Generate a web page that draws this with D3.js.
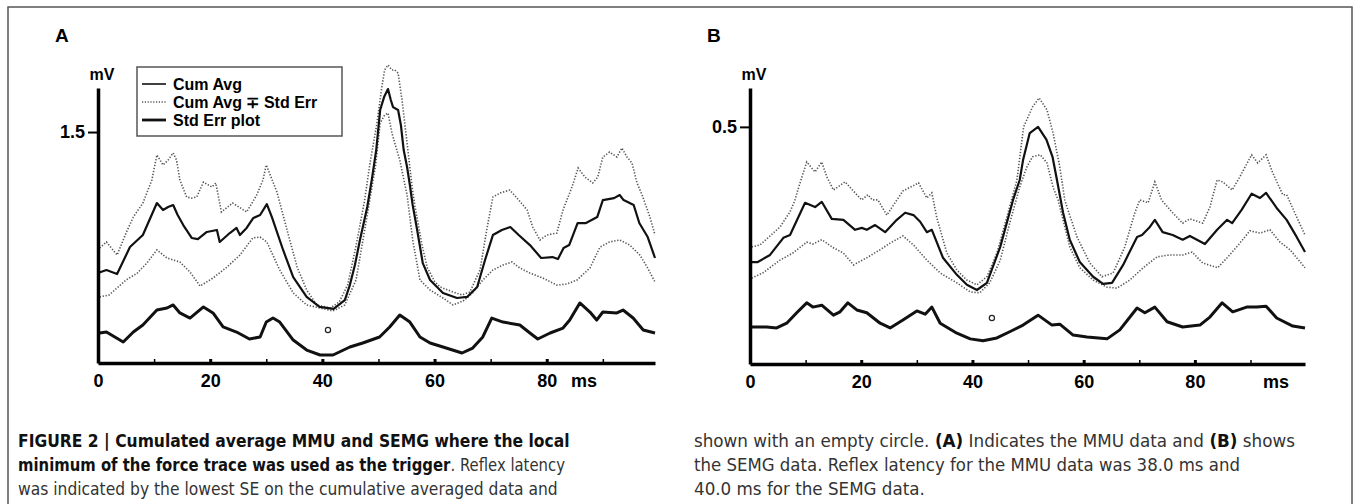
<!DOCTYPE html>
<html>
<head>
<meta charset="utf-8">
<script src="https://cdn.jsdelivr.net/npm/d3@7"></script>
<style>
body { margin: 0; background: #fff; }
svg text { font-family: "Liberation Sans", Arial, sans-serif; fill: #000; }
.cap { font-family: "Liberation Sans Narrow", "DejaVu Sans Condensed", "Liberation Sans", sans-serif; font-size: 17px; fill: #333; white-space: pre; }
</style>
</head>
<body>
<svg id="fig" width="1354" height="504"></svg>
<script>
var W = 1354, H = 504;

//Tick labels
var majorTicks = [0, 20, 40, 60, 80];
var minorTicks = [10, 30, 50, 70, 90];
var legendOptions = ['Cum Avg', 'Cum Avg \u2213 Std Err', 'Std Err plot'];

//Data, [ms, mV]
var cumAvgA = [[0,0.584],[1.5,0.604],[3.4,0.578],[5.7,0.753],[8,0.831],[10.5,1.039],[11.6,0.994],[12.5,1.013],[13.4,1.026],[14.2,0.961],[15.2,0.896],[16.7,0.812],[17.8,0.805],[19.4,0.851],[21.2,0.864],[21.7,0.786],[23.5,0.844],[24.7,0.877],[25.3,0.831],[26.5,0.877],[27.7,0.942],[28.9,0.961],[30.1,1.032],[31,0.948],[33,0.734],[34.8,0.558],[37.2,0.429],[39.5,0.364],[42,0.351],[44,0.409],[44.9,0.506],[45.8,0.636],[46.7,0.799],[48,1.013],[48.8,1.188],[49.6,1.383],[50.3,1.643],[51,1.727],[51.7,1.779],[52.2,1.708],[52.6,1.662],[53.5,1.643],[54,1.545],[54.5,1.383],[55.1,1.273],[55.6,1.156],[56.1,1.026],[56.9,0.864],[57.9,0.649],[59.2,0.539],[61.5,0.455],[64,0.422],[65.8,0.429],[67.6,0.494],[69,0.669],[70.4,0.831],[72,0.864],[73.5,0.883],[75,0.831],[77,0.766],[79,0.682],[81,0.688],[82,0.675],[83,0.747],[84,0.766],[85.5,0.909],[87,0.909],[89,0.948],[90,1.058],[92,1.071],[93,1.091],[93.7,1.058],[95.5,1.026],[96.5,0.909],[98,0.818],[99.3,0.682]];

var cumAvgHiA = [[0.3,0.747],[1.5,0.786],[3.4,0.701],[5,0.844],[6.3,0.948],[8,1.039],[9.6,1.188],[10.5,1.351],[11.6,1.286],[12.5,1.318],[13.4,1.364],[14,1.318],[14.6,1.188],[15.8,1.078],[16.7,1.071],[17.6,1.078],[18.8,1.175],[20.3,1.143],[21,1.169],[22,0.981],[24,1.039],[26.5,0.981],[28.3,1.091],[29.4,1.188],[30,1.286],[31.9,1.110],[33.7,0.864],[35.5,0.623],[37.2,0.474],[39,0.377],[41.4,0.357],[43,0.396],[44.5,0.506],[46,0.760],[47.5,1.050],[48.5,1.300],[49.7,1.550],[50.6,1.792],[51.1,1.903],[51.7,1.935],[52.4,1.903],[52.9,1.903],[53.5,1.883],[54.2,1.708],[55.1,1.429],[56,1.143],[56.5,1.020],[57.1,0.900],[57.8,0.760],[58.7,0.620],[60,0.530],[61,0.494],[63.3,0.461],[64.9,0.442],[66.3,0.461],[68.1,0.604],[69.3,0.864],[70.4,1.078],[71.7,1.104],[73.4,1.123],[74.7,1.071],[76.5,0.994],[77.5,0.883],[78.8,0.799],[80,0.831],[81.8,0.844],[82.9,0.994],[84.5,1.143],[85.6,1.266],[86.8,1.208],[88.2,1.169],[89.1,1.208],[90,1.338],[91.2,1.370],[92.5,1.338],[93.4,1.396],[94.3,1.338],[95.2,1.299],[96.1,1.169],[97,1.091],[98.4,0.948],[99.3,0.831]];

var cumAvgLoA = [[0.3,0.429],[2,0.442],[5,0.539],[7,0.584],[8.7,0.649],[10.5,0.734],[12.3,0.682],[14.6,0.656],[16.4,0.591],[18.2,0.500],[20.5,0.552],[23,0.623],[25.3,0.701],[27.6,0.812],[28.9,0.818],[30.1,0.786],[32.4,0.604],[34.8,0.455],[37.2,0.377],[39.6,0.357],[41.9,0.338],[44,0.377],[46,0.539],[48,0.961],[49.5,1.286],[50.3,1.558],[51.1,1.610],[51.7,1.623],[52.4,1.494],[52.9,1.429],[53.8,1.318],[55.1,1.091],[56.1,0.800],[57.4,0.539],[59.2,0.474],[61.5,0.422],[63.3,0.377],[65.1,0.403],[66.8,0.455],[68.6,0.539],[70.4,0.604],[72.2,0.636],[73.8,0.656],[75.2,0.617],[77,0.584],[79.3,0.552],[81.8,0.506],[83.6,0.513],[85.4,0.539],[87.7,0.617],[89.5,0.753],[91.2,0.786],[93,0.799],[94.8,0.766],[96.6,0.701],[97.9,0.623],[99.3,0.526]];

var stdErrA = [[0.3,0.195],[1.5,0.201],[4.5,0.136],[6.3,0.201],[8,0.247],[10.5,0.344],[12.3,0.357],[13.4,0.377],[14.6,0.325],[16.4,0.292],[18.8,0.364],[20.5,0.325],[22.3,0.234],[24.7,0.201],[27,0.156],[28.9,0.169],[30,0.266],[31.2,0.292],[32.4,0.266],[34.8,0.149],[37.2,0.084],[39.6,0.052],[41.9,0.052],[44.9,0.104],[47.2,0.130],[50.2,0.169],[52,0.234],[53.8,0.312],[55.6,0.266],[57.4,0.169],[59.2,0.130],[61.5,0.104],[64.9,0.065],[66.8,0.097],[68.6,0.169],[70.2,0.292],[72.2,0.266],[75.2,0.247],[77,0.195],[78.4,0.156],[80.6,0.195],[82.9,0.227],[84.1,0.279],[85.9,0.390],[87.7,0.331],[88.9,0.279],[90,0.331],[92.5,0.325],[93.6,0.344],[95.4,0.292],[97.2,0.214],[99.3,0.195]];

var cumAvgB = [[0,0.215],[1.4,0.215],[3.6,0.230],[6,0.266],[7.2,0.272],[9.9,0.340],[11.7,0.331],[12.9,0.342],[14.7,0.306],[16.8,0.304],[18.9,0.283],[20.1,0.287],[21,0.283],[22.5,0.293],[24.3,0.278],[26.4,0.304],[27.9,0.319],[29.4,0.314],[30.6,0.300],[31.8,0.278],[32.7,0.283],[34.7,0.224],[37.2,0.188],[39,0.167],[40.8,0.156],[42.6,0.171],[45,0.247],[47.3,0.346],[48.5,0.388],[49.1,0.430],[50.3,0.487],[51.8,0.500],[53.3,0.473],[54.4,0.437],[55.2,0.388],[56.3,0.319],[57.5,0.262],[59.3,0.215],[61.7,0.184],[63.5,0.169],[65.1,0.171],[67.1,0.209],[69.6,0.268],[70.5,0.272],[71.9,0.289],[72.8,0.304],[74.2,0.278],[76,0.272],[77.8,0.262],[79.1,0.270],[81.8,0.253],[84,0.283],[85.8,0.304],[86.7,0.297],[88.4,0.325],[90.2,0.359],[91.7,0.350],[92.8,0.361],[94.7,0.329],[96.5,0.304],[98.3,0.268],[99.8,0.236]];

var cumAvgHiB = [[0.3,0.247],[1.8,0.251],[5.4,0.289],[7.2,0.321],[8.1,0.346],[8.6,0.367],[10.2,0.426],[11.7,0.405],[12.9,0.426],[13.8,0.395],[15,0.367],[17.1,0.384],[19.2,0.357],[20.1,0.346],[21.2,0.357],[22,0.346],[23,0.346],[24.6,0.314],[27.5,0.365],[29.7,0.378],[30.3,0.382],[31.8,0.350],[32.7,0.361],[33.6,0.308],[35.4,0.234],[37.2,0.198],[39,0.177],[40.8,0.167],[42.6,0.184],[44.4,0.234],[46.4,0.319],[48,0.388],[49.2,0.500],[50.8,0.542],[52,0.561],[53.4,0.536],[54.5,0.487],[55.7,0.416],[56.6,0.346],[57,0.331],[58.8,0.268],[61.1,0.213],[63.3,0.184],[65.3,0.192],[67.4,0.247],[69.2,0.319],[70.1,0.346],[71.6,0.340],[72.8,0.384],[74,0.346],[76,0.319],[77.8,0.297],[79.1,0.306],[81.4,0.297],[82.7,0.331],[84,0.388],[85,0.384],[86.7,0.367],[88.1,0.395],[90.2,0.441],[91.3,0.424],[92.8,0.441],[94,0.403],[95.8,0.357],[96.5,0.357],[98.3,0.310],[99.8,0.272]];

var cumAvgLoB = [[0.3,0.181],[2.3,0.192],[5.4,0.219],[7.7,0.234],[10.2,0.257],[11.3,0.253],[12.9,0.262],[15,0.245],[16.8,0.234],[18.6,0.209],[21,0.224],[23.4,0.241],[25.2,0.255],[27.5,0.270],[29.4,0.251],[31.8,0.219],[34.2,0.192],[37.2,0.171],[39.6,0.152],[41.3,0.150],[43.1,0.171],[45,0.219],[46.7,0.297],[48.5,0.373],[49.8,0.416],[50.8,0.437],[52.2,0.441],[53.4,0.424],[54.5,0.373],[55.4,0.346],[57.5,0.247],[59.3,0.203],[61.7,0.177],[64.2,0.162],[66,0.160],[68.3,0.177],[70.7,0.203],[73.2,0.226],[75.5,0.230],[77.8,0.230],[79.5,0.236],[81.4,0.213],[84.1,0.203],[85.8,0.224],[88.1,0.255],[89.9,0.281],[91.7,0.276],[93.5,0.283],[95.3,0.257],[97.1,0.241],[99.8,0.203]];

var stdErrB = [[0.3,0.078],[3,0.078],[4.8,0.076],[6.6,0.086],[8.4,0.108],[10.2,0.129],[11.3,0.120],[12.9,0.124],[15,0.103],[16.2,0.110],[17.6,0.129],[19.2,0.114],[21,0.108],[23.4,0.086],[25.2,0.076],[27.5,0.093],[30,0.112],[31.5,0.105],[32.7,0.120],[34.2,0.086],[37.2,0.065],[39.6,0.053],[41.9,0.049],[44.4,0.055],[46.7,0.068],[49.1,0.082],[51.8,0.103],[54.3,0.082],[55.7,0.084],[58.1,0.061],[60.6,0.057],[64.2,0.053],[66.5,0.072],[69.6,0.118],[71,0.108],[72.8,0.120],[75,0.089],[77.8,0.078],[80.9,0.082],[82.7,0.099],[84.9,0.129],[86.8,0.110],[89.3,0.120],[91.1,0.120],[92.8,0.122],[94.7,0.097],[97.6,0.080],[99.8,0.076]];

//Reflex latency markers (empty circles)
var latencyA = [41, 0.214];
var latencyB = [43.5, 0.097];

var svg = d3.select('#fig');

//outer frame
svg.append('rect')
	.attr('x', 8).attr('y', 7)
	.attr('width', 1344).attr('height', 540)
	.attr('fill', 'none')
	.attr('stroke', '#555')
	.attr('stroke-width', 1.5);

function drawPanel(cfg) {
	var x = d3.scaleLinear().domain([0, cfg.xMax]).range([cfg.x0, cfg.x1]);
	var y = d3.scaleLinear().domain([0, cfg.yMax]).range([cfg.y0, 88]);
	var g = svg.append('g');

	var line = d3.line()
		.x(function(d){ return x(d[0]); })
		.y(function(d){ return y(d[1]); });

	//dotted envelopes
	[cfg.hi, cfg.lo].forEach(function(s){
		g.append('path').datum(s)
			.attr('d', line)
			.attr('fill', 'none')
			.attr('stroke', '#555')
			.attr('stroke-width', 1.6)
			.attr('stroke-dasharray', '1.3,1.7');
	});
	g.append('path').datum(cfg.avg)
		.attr('d', line)
		.attr('fill', 'none')
		.attr('stroke', '#111')
		.attr('stroke-width', 2.2)
		.attr('stroke-linejoin', 'round');
	g.append('path').datum(cfg.se)
		.attr('d', line)
		.attr('fill', 'none')
		.attr('stroke', '#111')
		.attr('stroke-width', 3)
		.attr('stroke-linejoin', 'round');

	g.append('circle')
		.attr('cx', x(cfg.lat[0]))
		.attr('cy', y(cfg.lat[1]))
		.attr('r', 2.6)
		.attr('fill', 'none')
		.attr('stroke', '#222')
		.attr('stroke-width', 1.2);

	//x axis
	var xAxis = g.append('g')
		.attr('transform', 'translate(0,' + cfg.y0 + ')')
		.call(d3.axisBottom(x).tickValues(majorTicks).tickSize(-4).tickSizeOuter(0).tickPadding(11));
	xAxis.select('.domain').attr('stroke', '#000').attr('stroke-width', 3.5);
	xAxis.selectAll('.tick line').attr('stroke', '#000').attr('stroke-width', 3);
	xAxis.selectAll('.tick text')
		.attr('font-size', '18px')
		.attr('font-weight', 'bold')
		.attr('font-family', '"Liberation Sans", Arial, sans-serif');
	var minorAxis = g.append('g')
		.attr('transform', 'translate(0,' + cfg.y0 + ')')
		.call(d3.axisBottom(x).tickValues(minorTicks).tickSize(-4).tickSizeOuter(0).tickFormat(''));
	minorAxis.select('.domain').remove();
	minorAxis.selectAll('.tick line').attr('stroke', '#000').attr('stroke-width', 1.5);

	g.append('text')
		.attr('x', cfg.msX)
		.attr('y', cfg.y0 + 24)
		.attr('text-anchor', 'middle')
		.attr('font-size', '18px')
		.attr('font-weight', 'bold')
		.text('ms');

	//y axis
	var yAxis = g.append('g')
		.attr('transform', 'translate(' + cfg.x0 + ',0)')
		.call(d3.axisLeft(y).tickValues([cfg.yTick]).tickSize(10).tickSizeOuter(0).tickPadding(3)
			.tickFormat(d3.format('.1f')));
	yAxis.select('.domain').attr('stroke', '#000').attr('stroke-width', 3.5);
	yAxis.selectAll('.tick line').attr('stroke', '#000').attr('stroke-width', 2);
	yAxis.selectAll('.tick text')
		.attr('font-size', '18px')
		.attr('font-weight', 'bold')
		.attr('font-family', '"Liberation Sans", Arial, sans-serif');

	g.append('text')
		.attr('x', cfg.x0 + 4)
		.attr('y', 80)
		.attr('text-anchor', 'middle')
		.attr('font-size', '16px')
		.attr('font-weight', 'bold')
		.text('mV');

	g.append('text')
		.attr('x', cfg.x0 - 43)
		.attr('y', 42)
		.attr('font-size', '19px')
		.attr('font-weight', 'bold')
		.text(cfg.label);
}

drawPanel({ label: 'A', x0: 98, x1: 655, xMax: 99.3, y0: 363, yMax: 1.786, yTick: 1.5, msX: 584,
	avg: cumAvgA, hi: cumAvgHiA, lo: cumAvgLoA, se: stdErrA, lat: latencyA });
drawPanel({ label: 'B', x0: 750, x1: 1305, xMax: 99.8, y0: 364, yMax: 0.582, yTick: 0.5, msX: 1276,
	avg: cumAvgB, hi: cumAvgHiB, lo: cumAvgLoB, se: stdErrB, lat: latencyB });

////////////////////////////////////////////
/////////// Legend /////////////////////////
////////////////////////////////////////////
var legend = svg.append('g').attr('class', 'legend');
legend.append('rect')
	.attr('x', 137).attr('y', 67)
	.attr('width', 205).attr('height', 69)
	.attr('fill', '#fff')
	.attr('stroke', '#555')
	.attr('stroke-width', 1.5);
var legStyles = [
	{ w: 1.6, dash: null, c: '#111' },
	{ w: 1.4, dash: '1.2,1.6', c: '#555' },
	{ w: 2.8, dash: null, c: '#111' }
];
legend.selectAll('line')
	.data(legendOptions)
	.enter()
	.append('line')
	.attr('x1', 142).attr('x2', 166)
	.attr('y1', function(d, i){ return 84 + i * 18; })
	.attr('y2', function(d, i){ return 84 + i * 18; })
	.attr('stroke', function(d, i){ return legStyles[i].c; })
	.attr('stroke-width', function(d, i){ return legStyles[i].w; })
	.attr('stroke-dasharray', function(d, i){ return legStyles[i].dash; });
legend.selectAll('text')
	.data(legendOptions)
	.enter()
	.append('text')
	.attr('x', 173)
	.attr('y', function(d, i){ return 90 + i * 18; })
	.attr('font-size', '16px')
	.attr('font-weight', 'bold')
	.text(function(d){ return d; });

////////////////////////////////////////////
/////////// Caption ////////////////////////
////////////////////////////////////////////
//a caption line is a row of text pieces, squeezed as a group to its width
function capLine(x, y, len, parts) {
	var g = svg.append('g');
	var cx = 0;
	parts.forEach(function(p){
		var t = g.append('text')
			.attr('class', 'cap')
			.attr('x', cx).attr('y', 0)
			.attr('font-weight', p[1] ? 'bold' : 'normal')
			.style('fill', p[1] ? '#111' : '#333')
			.text(p[0]);
		cx += t.node().getComputedTextLength();
	});
	g.attr('transform', 'translate(' + x + ',' + y + ') scale(' + (len / cx) + ',1)');
}
capLine(18, 447, 552, [['FIGURE 2 | Cumulated average MMU and SEMG where the local', true]]);
capLine(18, 471, 547, [['minimum of the force trace was used as the trigger', true], ['. Reflex latency', false]]);
capLine(18, 495, 540, [['was indicated by the lowest SE on the cumulative averaged data and', false]]);
capLine(694, 447, 601, [['shown with an empty circle. ', false], ['(A)', true], [' Indicates the MMU data and ', false], ['(B)', true], [' shows', false]]);
capLine(694, 471, 546, [['the SEMG data. Reflex latency for the MMU data was 38.0 ms and', false]]);
capLine(694, 495, 231, [['40.0 ms for the SEMG data.', false]]);
</script>
</body>
</html>
